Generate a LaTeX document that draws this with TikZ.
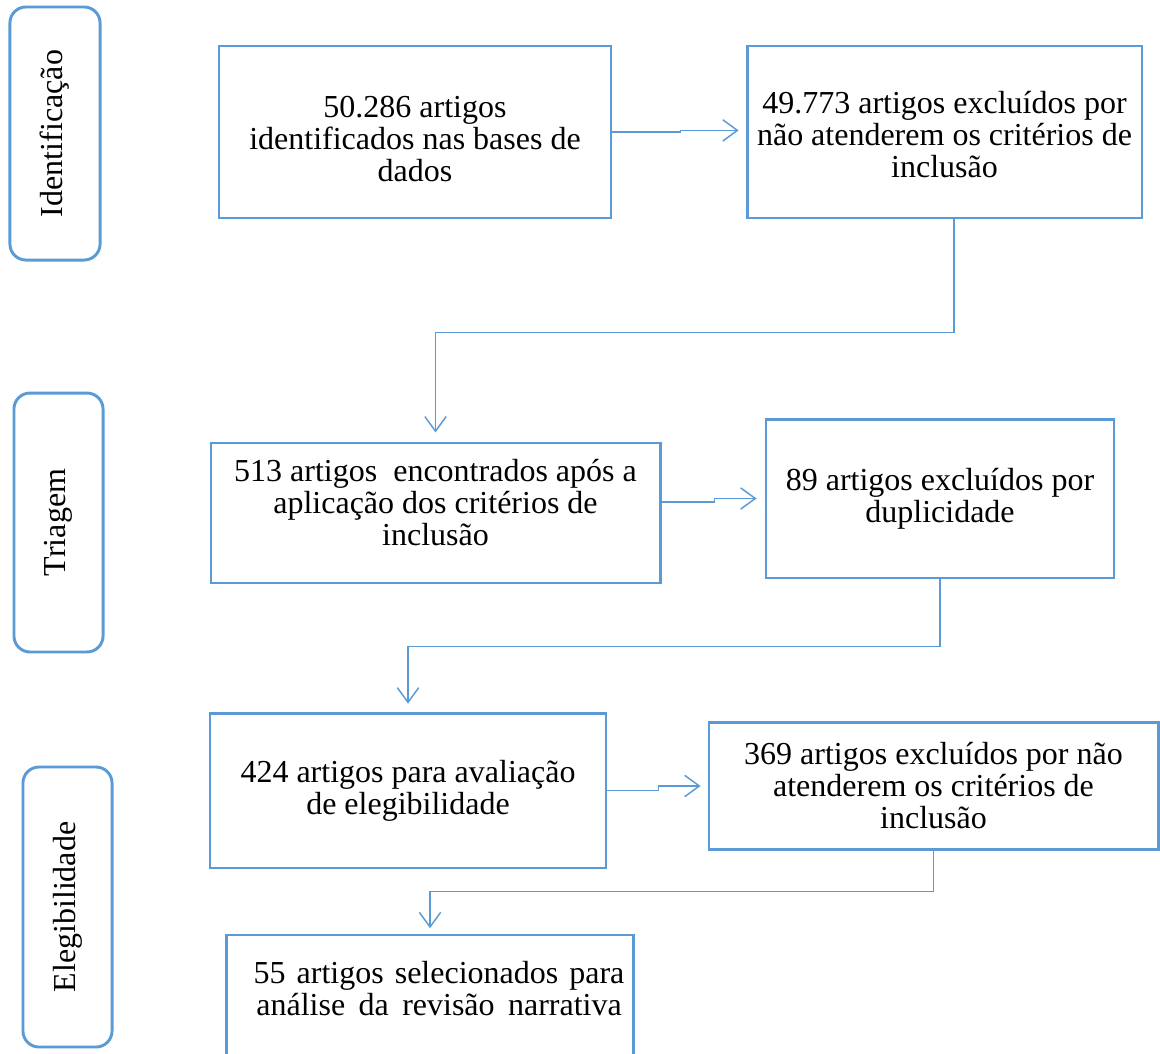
\documentclass[tikz,border=0pt]{standalone}
\usepackage{fontspec}
\setmainfont{Liberation Serif}
\usetikzlibrary{arrows.meta}
\definecolor{wordblue}{RGB}{91,155,213}

\begin{document}
\begin{tikzpicture}[x=0.375pt,y=-0.375pt,
    every node/.style={font={\fontsize{12}{12}\selectfont}, align=center, inner sep=0pt},
    box/.style={draw=wordblue, line width=1.1pt},
    phase/.style={draw=wordblue, line width=1.1pt, rounded corners=6pt, rotate=90},
    flow/.style={draw=wordblue, line width=0.55pt, -{Straight Barb[length=5.5pt,width=8pt]}}]
\useasboundingbox (0,0) rectangle (1160,1053);

% --- phase labels (left) ---
\node[phase, minimum width=94.9pt, minimum height=33.8pt] (ident) at (55,133.5) {Identificação};
\node[phase, minimum width=97.1pt, minimum height=33.4pt] (triagem) at (58.5,522.5) {Triagem};
\node[phase, minimum width=105pt, minimum height=33.4pt] (eleg) at (67.5,907) {Elegibilidade};

% --- Identificacao ---
\node[box, minimum width=147pt, minimum height=64.5pt] (identificados) at (415,132) {};
\node (identificadosTxt) at ([yshift=-2.6pt]identificados.center)
    {50.286 artigos\\identificados nas bases de\\dados};
\node[box, minimum width=148.1pt, minimum height=64.5pt] (excluidosA) at (944.5,132) {};
\node (excluidosATxt) at ([yshift=-1.1pt]excluidosA.center)
    {49.773 artigos excluídos por\\não atenderem os critérios de\\inclusão};

% --- Triagem ---
\node[box, minimum width=168.4pt, minimum height=52.5pt] (encontrados) at (435.5,513) {};
\node (encontradosTxt) at ([yshift=3.75pt]encontrados.center)
    {513 artigos~ encontrados após a\\aplicação dos critérios de\\inclusão};
\node[box, minimum width=130.5pt, minimum height=59.6pt] (duplicados) at (940,498.5)
    {89 artigos excluídos por\\duplicidade};

% --- Elegibilidade ---
\node[box, minimum width=148.5pt, minimum height=58.1pt] (avaliacao) at (408,790.5)
    {424 artigos para avaliação\\de elegibilidade};
\node[box, minimum width=168.4pt, minimum height=47.3pt] (excluidosB) at (933.5,786)
    {369 artigos excluídos por não\\atenderem os critérios de\\inclusão};
\node[box, minimum width=152.3pt, minimum height=46.5pt] (selecionados) at (430,997) {};
\node (selecionadosTxt) at ([xshift=3.4pt,yshift=3pt]selecionados.center)
    {\makebox[139pt][s]{55 artigos selecionados para}\\\makebox[137pt][s]{análise da revisão narrativa}};

% --- connectors ---
\draw[flow, shorten >=2.6pt] (identificados.east) -- ++(68,0) |- ([yshift=0.6pt]excluidosA.west);
\draw[flow, shorten >=3.4pt] ([xshift=3.6pt]excluidosA.south) -- ++(0,113) -| (encontrados.north);
\draw[flow, shorten >=3pt] ([yshift=4.1pt]encontrados.east) -- ++(53,0) |- (duplicados.west);
\draw[flow, shorten >=3pt] (duplicados.south) -- ++(0,67) -| (avaliacao.north);
\draw[flow, shorten >=2.6pt] (avaliacao.east) -- ++(51,0) |- (excluidosB.west);
\draw[flow, shorten >=2pt] (excluidosB.south) -- ++(0,41) -| (selecionados.north);
\end{tikzpicture}
\end{document}
